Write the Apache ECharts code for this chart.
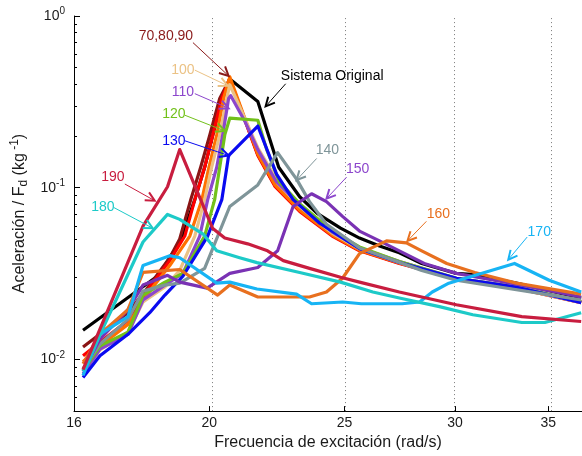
<!DOCTYPE html>
<html>
<head>
<meta charset="utf-8">
<script src="https://cdn.jsdelivr.net/npm/echarts@6/dist/echarts.min.js"></script>
<style>
html, body { margin: 0; padding: 0; background: #fff; }
#chart { width: 582px; height: 456px; }
</style>
</head>
<body>
<div id="chart"></div>
<script>
// frequency ticks (rad/s) and dotted grid positions
var freqTicks = [16, 20, 25, 30, 35];
var freqGrid = [20, 25, 30, 35];
var decades = [-2, -1, 0];
var xRange = [16, 37];
var yRange = [0.005, 1];

// [frequency rad/s, acceleration / Fd]
var original = [[16.24,0.0148],[18.4,0.0309],[18.68,0.0376],[19.05,0.048],[19.53,0.0852],[19.85,0.1315],[20.12,0.203],[20.42,0.331],[20.69,0.43],[21.67,0.318],[22.43,0.1315],[23.22,0.0886],[23.9,0.0708],[24.84,0.0581],[25.63,0.0509],[26.49,0.0458],[27.37,0.0418],[28.4,0.0362],[30.07,0.0317],[30.77,0.0313],[33.2,0.0278],[36.95,0.0228]];
var s70 = [[16.24,0.0118],[17.49,0.0187],[18.13,0.0271],[18.74,0.0391],[19.05,0.0503],[19.40,0.0852],[19.72,0.1315],[20.02,0.203],[20.35,0.331],[20.69,0.43],[21.67,0.156],[22.3,0.1025],[23.22,0.0735],[24.5,0.0528],[25.63,0.0432],[27.37,0.0364],[30.07,0.0295],[33.2,0.0261],[36.95,0.0215]];
var s80 = [[16.24,0.0105],[16.7,0.0126],[17.49,0.01685],[18.13,0.0264],[18.74,0.0376],[19.21,0.0523],[19.53,0.0852],[19.85,0.1315],[20.12,0.203],[20.42,0.331],[20.69,0.43],[21.67,0.154],[22.3,0.1013],[23.22,0.0727],[24.5,0.0523],[25.63,0.0429],[27.37,0.0362],[30.07,0.0294],[33.2,0.026],[36.95,0.0214]];
var s90 = [[16.24,0.0097],[16.7,0.01196],[17.49,0.016],[18.13,0.025],[18.74,0.0352],[19.37,0.0523],[19.76,0.0852],[19.99,0.1315],[20.25,0.203],[20.48,0.331],[20.69,0.442],[21.67,0.157],[22.3,0.1035],[23.22,0.074],[24.5,0.053],[25.63,0.0433],[27.37,0.0365],[30.07,0.0296],[33.2,0.0262],[36.95,0.0216]];
var s100 = [[16.24,0.00806],[16.7,0.01135],[17.49,0.0144],[17.93,0.0216],[18.59,0.0264],[19.05,0.033],[19.53,0.0523],[19.85,0.0852],[20.08,0.1315],[20.35,0.203],[20.59,0.331],[20.69,0.398],[21.67,0.171],[22.3,0.1153],[23.22,0.0777],[24.5,0.0544],[25.63,0.0441],[27.37,0.0367],[30.07,0.0294],[33.2,0.026],[36.95,0.0214]];
var s110 = [[16.24,0.00827],[16.7,0.0115],[17.49,0.014],[17.93,0.0222],[18.59,0.0271],[19.15,0.0317],[19.69,0.0523],[19.95,0.0852],[20.25,0.1315],[20.45,0.203],[20.65,0.331],[20.72,0.344],[21.21,0.244],[21.67,0.1667],[22.35,0.108],[23.22,0.0797],[24.5,0.0551],[25.63,0.0446],[27.37,0.0372],[30.07,0.0297],[33.2,0.0264],[36.95,0.0217]];
var s120 = [[16.24,0.00856],[16.7,0.012],[17.49,0.0144],[17.93,0.0237],[18.59,0.0282],[19.15,0.0317],[19.85,0.0523],[20.18,0.0852],[20.35,0.1315],[20.52,0.203],[20.69,0.254],[21.67,0.247],[21.99,0.1667],[22.46,0.108],[23.22,0.0808],[24.5,0.0559],[25.63,0.0452],[27.37,0.0372],[30.07,0.0297],[33.2,0.0264],[36.95,0.0217]];
var s130 = [[16.24,0.00785],[16.7,0.0105],[17.49,0.014],[18.13,0.0187],[18.59,0.0237],[19.15,0.0305],[19.95,0.0523],[20.42,0.0852],[20.59,0.1315],[20.65,0.154],[21.67,0.2287],[22.35,0.12],[22.97,0.0852],[24.0,0.0621],[25.63,0.0441],[27.37,0.0367],[30.07,0.0297],[33.2,0.0264],[36.95,0.0214]];
var s140 = [[16.24,0.00884],[16.7,0.0123],[17.49,0.0171],[17.93,0.025],[18.59,0.0271],[19.05,0.0278],[19.85,0.0339],[20.69,0.0777],[21.67,0.1038],[22.39,0.160],[23.1,0.1122],[23.6,0.083],[24.27,0.0613],[25.63,0.0446],[26.8,0.0391],[28.4,0.033],[30.07,0.0289],[36.95,0.0222]];
var s150 = [[16.24,0.00856],[16.7,0.0131],[17.49,0.0195],[17.93,0.0271],[18.67,0.0309],[19.05,0.0282],[19.93,0.026],[20.69,0.0317],[21.67,0.0343],[22.39,0.0429],[22.97,0.0777],[23.68,0.0922],[24.27,0.083],[24.92,0.0681],[25.63,0.0559],[26.49,0.049],[27.37,0.0429],[28.52,0.0362],[30.07,0.0317],[33.2,0.0274],[36.95,0.0231]];
var s160 = [[16.24,0.00944],[16.7,0.014],[17.49,0.0195],[17.93,0.0321],[19.05,0.0334],[20.28,0.0237],[20.69,0.0271],[21.67,0.0231],[23.6,0.0231],[24.27,0.0247],[24.92,0.0297],[25.63,0.0413],[26.8,0.049],[27.69,0.0477],[28.4,0.0429],[29.6,0.0362],[31.0,0.0321],[33.2,0.0278],[36.95,0.024]];
var s170 = [[16.24,0.00806],[16.7,0.014],[17.49,0.01776],[17.93,0.0352],[18.74,0.0402],[19.05,0.0391],[20.25,0.0278],[20.69,0.0282],[21.64,0.0257],[23.1,0.024],[23.68,0.0211],[24.93,0.0216],[25.71,0.0211],[27.5,0.0211],[28.3,0.0216],[28.9,0.0247],[29.7,0.0278],[33.1,0.0362],[35.05,0.0289],[36.95,0.0247]];
var s180 = [[16.24,0.00856],[17.93,0.0483],[18.67,0.0699],[19.05,0.0654],[19.8,0.0537],[20.25,0.0429],[21.03,0.0391],[21.64,0.0366],[23.22,0.0321],[24.84,0.0282],[26.2,0.0247],[27.37,0.0228],[29.24,0.0203],[30.9,0.0182],[33.5,0.0164],[34.8,0.0164],[36.95,0.0187]];
var s190 = [[16.24,0.00871],[17.93,0.0597],[18.67,0.1013],[19.05,0.1667],[20.11,0.0581],[20.52,0.0509],[21.31,0.0471],[22.02,0.0429],[22.6,0.0376],[23.6,0.0339],[24.84,0.0301],[25.63,0.0282],[27.37,0.0247],[30.07,0.0208],[33.5,0.01776],[36.95,0.01662]];

var seriesNames = ['Sistema Original', '70', '80', '90', '100', '110', '120', '130', '140', '150', '160', '170', '180', '190'];
var seriesData = [original, s70, s80, s90, s100, s110, s120, s130, s140, s150, s160, s170, s180, s190];
var seriesColors = ['#000000', '#8a1414', '#ff0000', '#ff7000', '#ebc285', '#8c46cc', '#72c11a', '#0a0af0', '#7f9599', '#7a32b4', '#e8701f', '#17b4f4', '#1dcac8', '#c81d3f'];

// label text, colour, text centre, arrow start, arrow tip (frequency, value)
var notes = [
  ['70,80,90', '#8a1a1a', [18.62, 0.768], [19.47, 0.70], [20.65, 0.448]],
  ['100', '#ebc285', [19.15, 0.484], [19.53, 0.484], [20.62, 0.3925]],
  ['110', '#8c46cc', [19.15, 0.3626], [19.53, 0.353], [20.65, 0.29]],
  ['120', '#72c11a', [18.87, 0.268], [19.21, 0.2644], [20.52, 0.2141]],
  ['130', '#0a0af0', [18.87, 0.1877], [19.21, 0.1877], [20.65, 0.154]],
  ['Sistema Original', '#000000', [24.5, 0.448], [22.69, 0.403], [21.95, 0.2977]],
  ['140', '#7f9599', [24.31, 0.1645], [23.88, 0.148], [23.10, 0.1108]],
  ['150', '#8c46cc', [25.55, 0.128], [25.09, 0.1153], [24.27, 0.0863]],
  ['160', '#e8701f', [29.19, 0.0699], [28.62, 0.0637], [27.74, 0.049]],
  ['170', '#17b4f4', [34.48, 0.0551], [33.80, 0.0516], [32.76, 0.0381]],
  ['190', '#c81d3f', [17.06, 0.1153], [17.40, 0.1051], [18.28, 0.084]],
  ['180', '#1dcac8', [16.78, 0.0766], [17.09, 0.0766], [18.22, 0.0581]]
];

var FONT = '"Liberation Sans", Arial, Helvetica, sans-serif';
var TXT = '#1a1a1a';

function toXY(p) { return [Math.log(p[0]), Math.log10(p[1])]; }

var minorTicks = [];
[-3, -2, -1].forEach(function (d) {
  for (var k = 2; k <= 9; k++) {
    var t = Math.log10(k) + d;
    if (t > Math.log10(yRange[0]) + 1e-6 && t < 0) minorTicks.push(t);
  }
});

var chart = echarts.init(document.getElementById('chart'));

var series = [{
  type: 'line',
  name: 'grid',
  data: [],
  silent: true,
  z: 1,
  markLine: {
    silent: true,
    z: 1,
    symbol: ['none', 'none'],
    label: { show: false },
    lineStyle: { type: [1, 3], color: '#7a7a7a', width: 1 },
    data: freqGrid.map(function (f) { return { xAxis: Math.log(f) }; })
  }
}];
seriesData.forEach(function (d, i) {
  series.push({
    type: 'line',
    name: seriesNames[i],
    data: d.map(toXY),
    showSymbol: false,
    symbol: 'none',
    z: 2,
    lineStyle: { color: seriesColors[i], width: 3.2, join: 'round' },
    itemStyle: { color: seriesColors[i] }
  });
});

var option = {
  animation: false,
  backgroundColor: '#fff',
  grid: { left: 74, top: 16, right: 0, bottom: 39 },
  xAxis: {
    type: 'value',
    min: Math.log(xRange[0]),
    max: Math.log(xRange[1]),
    name: 'Frecuencia de excitación (rad/s)',
    nameLocation: 'middle',
    nameGap: 21,
    nameTextStyle: { fontFamily: FONT, fontSize: 16, color: TXT },
    axisLine: { show: true, onZero: false, lineStyle: { color: '#000', width: 1 } },
    axisTick: { show: true, inside: true, length: 5, customValues: freqTicks.map(Math.log), lineStyle: { color: '#000' } },
    axisLabel: {
      customValues: freqTicks.map(Math.log),
      formatter: function (v) { return String(Math.round(Math.exp(v))); },
      margin: 5, fontFamily: FONT, fontSize: 14, color: TXT
    },
    splitLine: { show: false }
  },
  yAxis: [{
    type: 'value',
    min: Math.log10(yRange[0]),
    max: Math.log10(yRange[1]),
    name: '{n|Aceleración / F}{sub|d}{n| (kg}{sup| -1}{n|)}',
    nameLocation: 'middle',
    nameGap: 37,
    nameTextStyle: {
      color: TXT,
      rich: {
        n: { fontFamily: FONT, fontSize: 16, color: TXT },
        sub: { fontFamily: FONT, fontSize: 12, color: TXT, padding: [8, 0, 0, 0] },
        sup: { fontFamily: FONT, fontSize: 12, color: TXT, padding: [0, 0, 9, 0] }
      }
    },
    axisLine: { show: true, onZero: false, lineStyle: { color: '#000', width: 1 } },
    axisTick: { show: true, inside: true, length: 6, customValues: decades, lineStyle: { color: '#000' } },
    axisLabel: {
      customValues: decades,
      formatter: function (v) { return '{b|10}{s|' + Math.round(v) + '}'; },
      margin: 9,
      rich: {
        b: { fontFamily: FONT, fontSize: 14, color: TXT },
        s: { fontFamily: FONT, fontSize: 10, color: TXT, padding: [0, 0, 9, 0] }
      }
    },
    splitLine: { show: false }
  }, {
    type: 'value',
    min: Math.log10(yRange[0]),
    max: Math.log10(yRange[1]),
    position: 'left',
    axisLine: { show: false },
    axisTick: { show: true, inside: true, length: 3, customValues: minorTicks, lineStyle: { color: '#000' } },
    axisLabel: { show: false },
    splitLine: { show: false }
  }],
  series: series
};

chart.setOption(option);

// annotations: text plus arrow, placed in data coordinates
var graphics = [];
notes.forEach(function (n) {
  var t = chart.convertToPixel({ xAxisIndex: 0, yAxisIndex: 0 }, toXY(n[2]));
  var a = chart.convertToPixel({ xAxisIndex: 0, yAxisIndex: 0 }, toXY(n[3]));
  var b = chart.convertToPixel({ xAxisIndex: 0, yAxisIndex: 0 }, toXY(n[4]));
  var dx = b[0] - a[0], dy = b[1] - a[1];
  var len = Math.sqrt(dx * dx + dy * dy);
  var ux = dx / len, uy = dy / len;
  var hl = 9, hw = 4.5;
  var p1 = [b[0] - ux * hl - uy * hw, b[1] - uy * hl + ux * hw];
  var p2 = [b[0] - ux * hl + uy * hw, b[1] - uy * hl - ux * hw];
  graphics.push({
    type: 'text', z: 100,
    style: { text: n[0], x: t[0], y: t[1], fill: n[1], font: '14px ' + FONT, align: 'center', verticalAlign: 'middle' }
  });
  graphics.push({
    type: 'line', z: 100,
    shape: { x1: a[0], y1: a[1], x2: b[0] - ux * 2, y2: b[1] - uy * 2 },
    style: { stroke: n[1], lineWidth: 1 }
  });
  graphics.push({
    type: 'polyline', z: 100,
    shape: { points: [p1, b, p2] },
    style: { stroke: n[1], lineWidth: 2, fill: null, lineJoin: 'miter' }
  });
});
chart.setOption({ graphic: graphics });
</script>
</body>
</html>
